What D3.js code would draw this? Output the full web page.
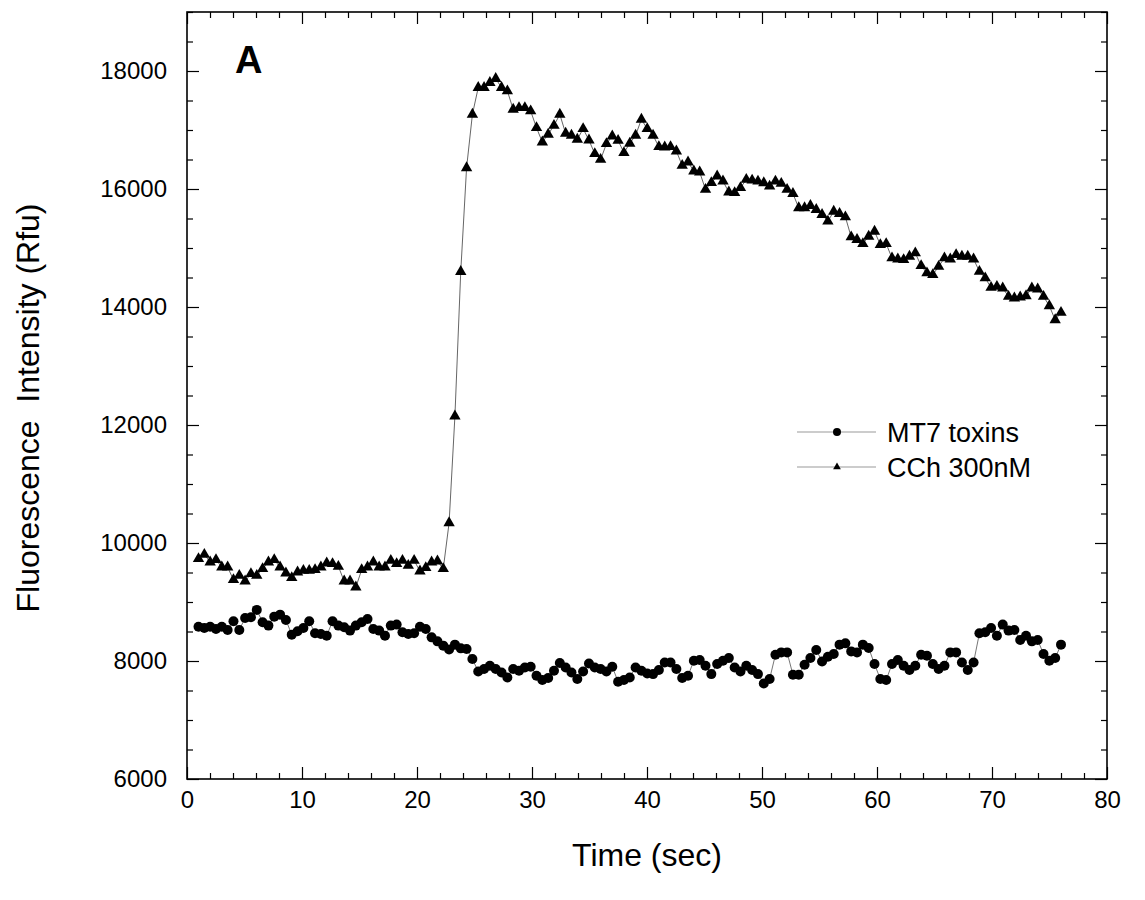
<!DOCTYPE html>
<html>
<head>
<meta charset="utf-8">
<script src="https://cdn.jsdelivr.net/npm/d3@7"></script>
<style>
  body { margin: 0; background: #fff; }
  text { font-family: "Liberation Sans", Arial, sans-serif; fill: #000; }
</style>
</head>
<body>
<svg width="1145" height="900"></svg>
<script>
// readings in Rfu, sampled about every half second from t=1 to t=76
const mt7 = [
  8582, 8560, 8582, 8543, 8582, 8526, 8673, 8526, 8730, 8741,
  8866, 8656, 8600, 8752, 8786, 8696, 8447, 8503, 8560, 8673,
  8469, 8458, 8429, 8673, 8600, 8571, 8515, 8600, 8656, 8713,
  8543, 8515, 8429, 8600, 8617, 8486, 8458, 8469, 8582, 8543,
  8401, 8333, 8260, 8197, 8277, 8214, 8203, 8033, 7823,
  7863, 7920, 7863, 7806, 7721, 7863, 7835, 7891, 7903, 7750,
  7677, 7711, 7835, 7965, 7891, 7806, 7694, 7823, 7959, 7891,
  7863, 7823, 7903, 7648, 7677, 7721, 7891, 7835, 7789, 7778,
  7846, 7976, 7976, 7863, 7711, 7750, 8005, 8016, 7920, 7778,
  7948, 8005, 8050, 7891, 7823, 7920, 7846, 7778, 7620, 7694,
  8107, 8146, 8146,
  7767, 7767, 7937, 8050, 8186, 7993, 8073, 8118, 8277, 8299,
  8163, 8146, 8277, 8220, 7948, 7694, 7677, 7948, 8016, 7920,
  7846, 7920, 8107, 8090, 7948, 7863, 7920, 8146, 8146, 7976,
  7846, 7976, 8469, 8486, 8560, 8429, 8617, 8515, 8526, 8356,
  8429, 8333, 8356, 8118, 8005, 8050, 8277
];

const cch = [
  9732, 9806, 9676, 9716, 9591, 9591, 9376, 9450, 9353, 9478,
  9450, 9563, 9676, 9716, 9591, 9489, 9410, 9506, 9534, 9534,
  9546, 9591, 9659, 9648, 9602, 9353, 9353, 9251, 9546, 9591,
  9676, 9591, 9591, 9704, 9648, 9704, 9619, 9704, 9523, 9580,
  9676, 9693, 9563,
  10340, 12150, 14600,
  16358, 17264, 17718, 17718, 17803, 17871, 17718, 17661, 17349, 17378,
  17378, 17321, 17038, 16794, 16925, 17077, 17264, 16942, 16908, 16840,
  17021, 16828, 16597, 16500, 16766, 16896, 16823, 16614,
  16773, 16908, 17180, 17021, 16908, 16716, 16710, 16716, 16642, 16399,
  16456, 16303, 16286, 15992, 16105, 16218, 16133, 15946, 15935, 16020,
  16160, 16148, 16131, 16103, 16046, 16131, 16092, 15990, 15922, 15679,
  15679, 15718, 15650, 15565, 15452, 15621, 15582, 15526, 15186, 15141,
  15073, 15197, 15282, 15056, 15073, 14829, 14812, 14801, 14857, 14914,
  14699, 14575, 14546, 14687, 14829, 14812, 14886, 14857, 14857, 14812,
  14602, 14490, 14330, 14347, 14320, 14178, 14150, 14167, 14189, 14320,
  14303, 14178, 14019, 13781, 13906
];

const tFirst = 1, tLast = 76;
const xTicks = [0, 10, 20, 30, 40, 50, 60, 70, 80];
const yTicks = [6000, 8000, 10000, 12000, 14000, 16000, 18000];
const seriesNames = ["MT7 toxins", "CCh 300nM"];

// plot box
const boxL = 187, boxR = 1107, boxT = 12, boxB = 779;

const svg = d3.select("svg");

const x = d3.scaleLinear().domain([0, 80]).range([boxL, boxR]);
const y = d3.scaleLinear().domain([6000, 19000]).range([boxB, boxT]);

// sample times
const timeOf = (i, n) => tFirst + i * (tLast - tFirst) / (n - 1);
const mt7Pts = mt7.map((v, i) => [timeOf(i, mt7.length), v]);
const cchPts = cch.map((v, i) => [timeOf(i, cch.length), v]);

const xMinor = d3.range(0, 81, 2).filter(d => d % 10 !== 0);
const yMinor = d3.range(6000, 19001, 500).filter(d => d % 2000 !== 0);

// axes, ticks pointing inwards
function addAxis(axis, tx, ty, cls) {
  const g = svg.append("g")
      .attr("class", cls)
      .attr("transform", `translate(${tx},${ty})`)
      .call(axis);
  g.select(".domain").remove();
  g.selectAll("line").attr("stroke", "#000").attr("stroke-width", 1.2);
  return g;
}

addAxis(d3.axisBottom(x).tickValues(xTicks).tickSize(-12).tickPadding(12), 0, boxB, "xaxis")
    .selectAll("text").style("font-size", "24px");
addAxis(d3.axisBottom(x).tickValues(xMinor).tickSize(-6).tickFormat(""), 0, boxB, "xminor");
addAxis(d3.axisTop(x).tickValues(xTicks).tickSize(-12).tickFormat(""), 0, boxT, "xtop");
addAxis(d3.axisTop(x).tickValues(xMinor).tickSize(-6).tickFormat(""), 0, boxT, "xtopminor");

addAxis(d3.axisLeft(y).tickValues(yTicks).tickSize(-12).tickPadding(20).tickFormat(d3.format("d")), boxL, 0, "yaxis")
    .selectAll("text").style("font-size", "24px");
addAxis(d3.axisLeft(y).tickValues(yMinor).tickSize(-6).tickFormat(""), boxL, 0, "yminor");
addAxis(d3.axisRight(y).tickValues(yTicks).tickSize(-12).tickFormat(""), boxR, 0, "yright");
addAxis(d3.axisRight(y).tickValues(yMinor).tickSize(-6).tickFormat(""), boxR, 0, "yrightminor");

svg.selectAll(".tick text").attr("fill", "#000").style("font-family", "'Liberation Sans', Arial, sans-serif");

// frame
svg.append("rect")
    .attr("x", boxL).attr("y", boxT)
    .attr("width", boxR - boxL).attr("height", boxB - boxT)
    .attr("fill", "none")
    .attr("stroke", "#000")
    .attr("stroke-width", 1.6);

// traces
const line = d3.line().x(d => x(d[0])).y(d => y(d[1]));

svg.append("path").datum(mt7Pts)
    .attr("d", line)
    .attr("fill", "none")
    .attr("stroke", "#666")
    .attr("stroke-width", 0.9);

svg.append("path").datum(cchPts)
    .attr("d", line)
    .attr("fill", "none")
    .attr("stroke", "#555")
    .attr("stroke-width", 0.9);

svg.append("g").selectAll("circle")
    .data(mt7Pts)
    .join("circle")
    .attr("cx", d => x(d[0]))
    .attr("cy", d => y(d[1]))
    .attr("r", 5)
    .attr("fill", "#000");

const tri = d3.symbol(d3.symbolTriangle).size(56);
svg.append("g").selectAll("path")
    .data(cchPts)
    .join("path")
    .attr("d", tri)
    .attr("transform", d => `translate(${x(d[0])},${y(d[1])})`)
    .attr("fill", "#000");

// panel letter
svg.append("text")
    .attr("x", 235).attr("y", 73)
    .style("font-size", "38px")
    .style("font-weight", "bold")
    .text("A");

// legend
const legY = [432, 467];
const legend = svg.append("g");
legY.forEach((ly, i) => {
  legend.append("line")
      .attr("x1", 797).attr("x2", 876)
      .attr("y1", ly).attr("y2", ly)
      .attr("stroke", "#999")
      .attr("stroke-width", 1);
  if (i === 0) {
    legend.append("circle").attr("cx", 837).attr("cy", ly).attr("r", 4).attr("fill", "#000");
  } else {
    legend.append("path")
        .attr("d", d3.symbol(d3.symbolTriangle).size(26))
        .attr("transform", `translate(837,${ly})`)
        .attr("fill", "#000");
  }
  legend.append("text")
      .attr("x", 887).attr("y", ly)
      .attr("dy", "0.36em")
      .style("font-size", "27px")
      .text(seriesNames[i]);
});

// axis titles
svg.append("text")
    .attr("x", (boxL + boxR) / 2).attr("y", 866)
    .attr("text-anchor", "middle")
    .style("font-size", "32px")
    .text("Time (sec)");

svg.append("text")
    .attr("transform", "translate(39,408) rotate(-90)")
    .attr("text-anchor", "middle")
    .attr("xml:space", "preserve")
    .style("white-space", "pre")
    .style("font-size", "32px")
    .text("Fluorescence  Intensity (Rfu)");
</script>
</body>
</html>
